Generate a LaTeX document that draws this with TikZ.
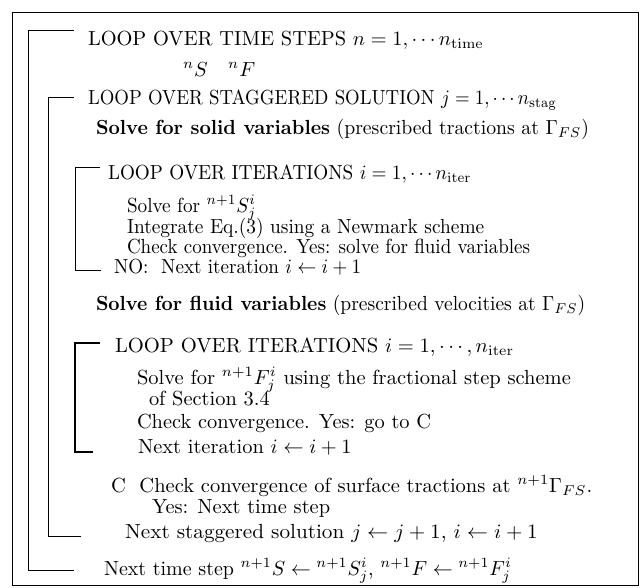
\documentclass[tikz,border=0pt]{standalone}
\usepackage{graphicx}
\newcommand{\Tx}[2][2.04]{\scalebox{#1}[2.04]{#2}}
\tikzset{
  txt/.style={anchor=base west, inner sep=0pt, outer sep=0pt},
  brk/.style={draw, line width=0.9pt},
  brkthick/.style={draw, line width=1.5pt},
  frame/.style={draw, line width=1pt}
}
\begin{document}
\begin{tikzpicture}[x=1pt, y=-1pt]
\useasboundingbox (0,0) rectangle (640,587);
\draw[frame] (12.5,12) rectangle (638,585);

% text lines
\node[txt] (t1) at (88,45) {\Tx{LOOP OVER TIME STEPS $n=1,\cdots n_{\rm time}$}};
\node[txt] (t2) at (183,76) {\Tx{${}^nS\quad{}^nF$}};
\node[txt] (t3) at (88,104) {\Tx[1.88]{LOOP OVER STAGGERED SOLUTION $j=1,\cdots n_{\rm stag}$}};
\node[txt] (t4) at (96,134) {\Tx[1.97]{\textbf{Solve for solid variables} (prescribed tractions at $\Gamma_{FS}$)}};
\node[txt] (t5) at (108,179) {\Tx[1.92]{LOOP OVER ITERATIONS $i=1,\cdots n_{\rm iter}$}};
\node[txt] (t6) at (127,212) {\Tx[1.92]{Solve for ${}^{n+1}S_j^i$}};
\node[txt] (t7) at (127,233) {\Tx[1.94]{Integrate Eq.(3) using a Newmark scheme}};
\node[txt] (t8) at (127,253) {\Tx[1.90]{Check convergence. Yes: solve for fluid variables}};
\node[txt] (t9) at (114,273) {\Tx[1.91]{NO:\ \ Next iteration $i\leftarrow i+1$}};
\node[txt] (t10) at (96,310) {\Tx[1.95]{\textbf{Solve for fluid variables} (prescribed velocities at $\Gamma_{FS}$)}};
\node[txt] (t11) at (115,352) {\Tx[2.06]{LOOP OVER ITERATIONS $i=1,\cdots,n_{\rm iter}$}};
\node[txt] (t12) at (137,384) {\Tx[2.05]{Solve for ${}^{n+1}F_j^i$ using the fractional step scheme}};
\node[txt] (t13) at (149,405) {\Tx{of Section 3.4}};
\node[txt] (t14) at (137,428) {\Tx{Check convergence. Yes: go to C}};
\node[txt] (t15) at (138,453) {\Tx{Next iteration $i\leftarrow i+1$}};
\node[txt] (t16) at (111,492) {\Tx[2.05]{C\ \ Check convergence of surface tractions at ${}^{n+1}\Gamma_{FS}$.}};
\node[txt] (t17) at (152,513) {\Tx{Yes: Next time step}};
\node[txt] (t18) at (125,538) {\Tx[2.12]{Next staggered solution $j\leftarrow j+1$, $i\leftarrow i+1$}};
\node[txt] (t19) at (104,575) {\Tx[2.0]{Next time step ${}^{n+1}S\leftarrow{}^{n+1}S_j^i$, ${}^{n+1}F\leftarrow{}^{n+1}F_j^i$}};

% bracket corners
\coordinate (a1) at (74,30);  \coordinate (a2) at (28,30);
\coordinate (a3) at (28,570); \coordinate (a4) at (74,570);
\coordinate (b1) at (74,97);  \coordinate (b2) at (48.5,97);
\coordinate (b3) at (48.5,536); \coordinate (b4) at (81,536);
\coordinate (c1) at (100,167); \coordinate (c2) at (75,167);
\coordinate (c3) at (75,270); \coordinate (c4) at (101,270);
\coordinate (d1) at (100,343); \coordinate (d2) at (75,343);
\coordinate (d3) at (75,452); \coordinate (d4) at (93,452);

\draw[brk] (a1) -- (a2) -- (a3) -- (a4);
\draw[brk] (b1) -- (b2) -- (b3) -- (b4);
\draw[brk] (c1) -- (c2) -- (c3) -- (c4);
\draw[brkthick] (d1) -- (d2) -- (d3) -- (d4);
\end{tikzpicture}
\end{document}
